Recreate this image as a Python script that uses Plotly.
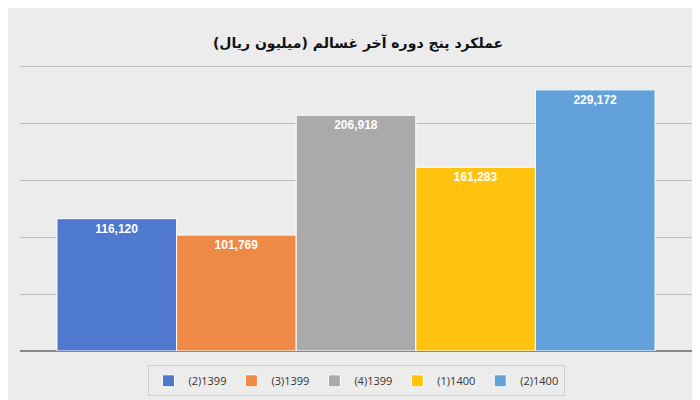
import plotly.graph_objects as go

series = ["(2)1399", "(3)1399", "(4)1399", "(1)1400", "(2)1400"]
values = [116120, 101769, 206918, 161283, 229172]
colors = ["#4E79CF", "#EE8A45", "#AAAAAA", "#FFC30F", "#62A1DA"]

fig = go.Figure()
for s, v, c in zip(series, values, colors):
    fig.add_trace(go.Bar(
        x=["x"], y=[v], name=s, marker=dict(color=c, line=dict(color="white", width=1)),
        text=[f"<b>{v:,}</b>"], textposition="inside", insidetextanchor="end",
        textfont=dict(color="white", size=12, family="Liberation Sans"),
    ))

fig.update_layout(
    width=700, height=400,
    title=dict(text="<b>عملکرد پنج دوره آخر غسالم (میلیون ریال)</b>", x=0.5, y=0.925,
               xanchor="center", font=dict(size=14, color="#111", family="DejaVu Sans")),
    barmode="group", bargap=0.11, bargroupgap=0.0,
    paper_bgcolor="#ececec", plot_bgcolor="#ececec",
    margin=dict(l=12, r=16, t=57, b=55),
    xaxis=dict(showticklabels=False, showgrid=False, zeroline=False),
    yaxis=dict(range=[0, 251000], dtick=50000, showticklabels=False,
               gridcolor="#bdbdbd", zeroline=True, zerolinecolor="#888"),
    legend=dict(orientation="h", x=0.5, xanchor="center", y=-0.05, yanchor="top",
                bordercolor="#cfcfcf", borderwidth=1, bgcolor="#ececec",
                font=dict(size=11, color="#333"), itemwidth=30),
    uniformtext=dict(minsize=8, mode="show"),
)
fig.write_html("out.html")
